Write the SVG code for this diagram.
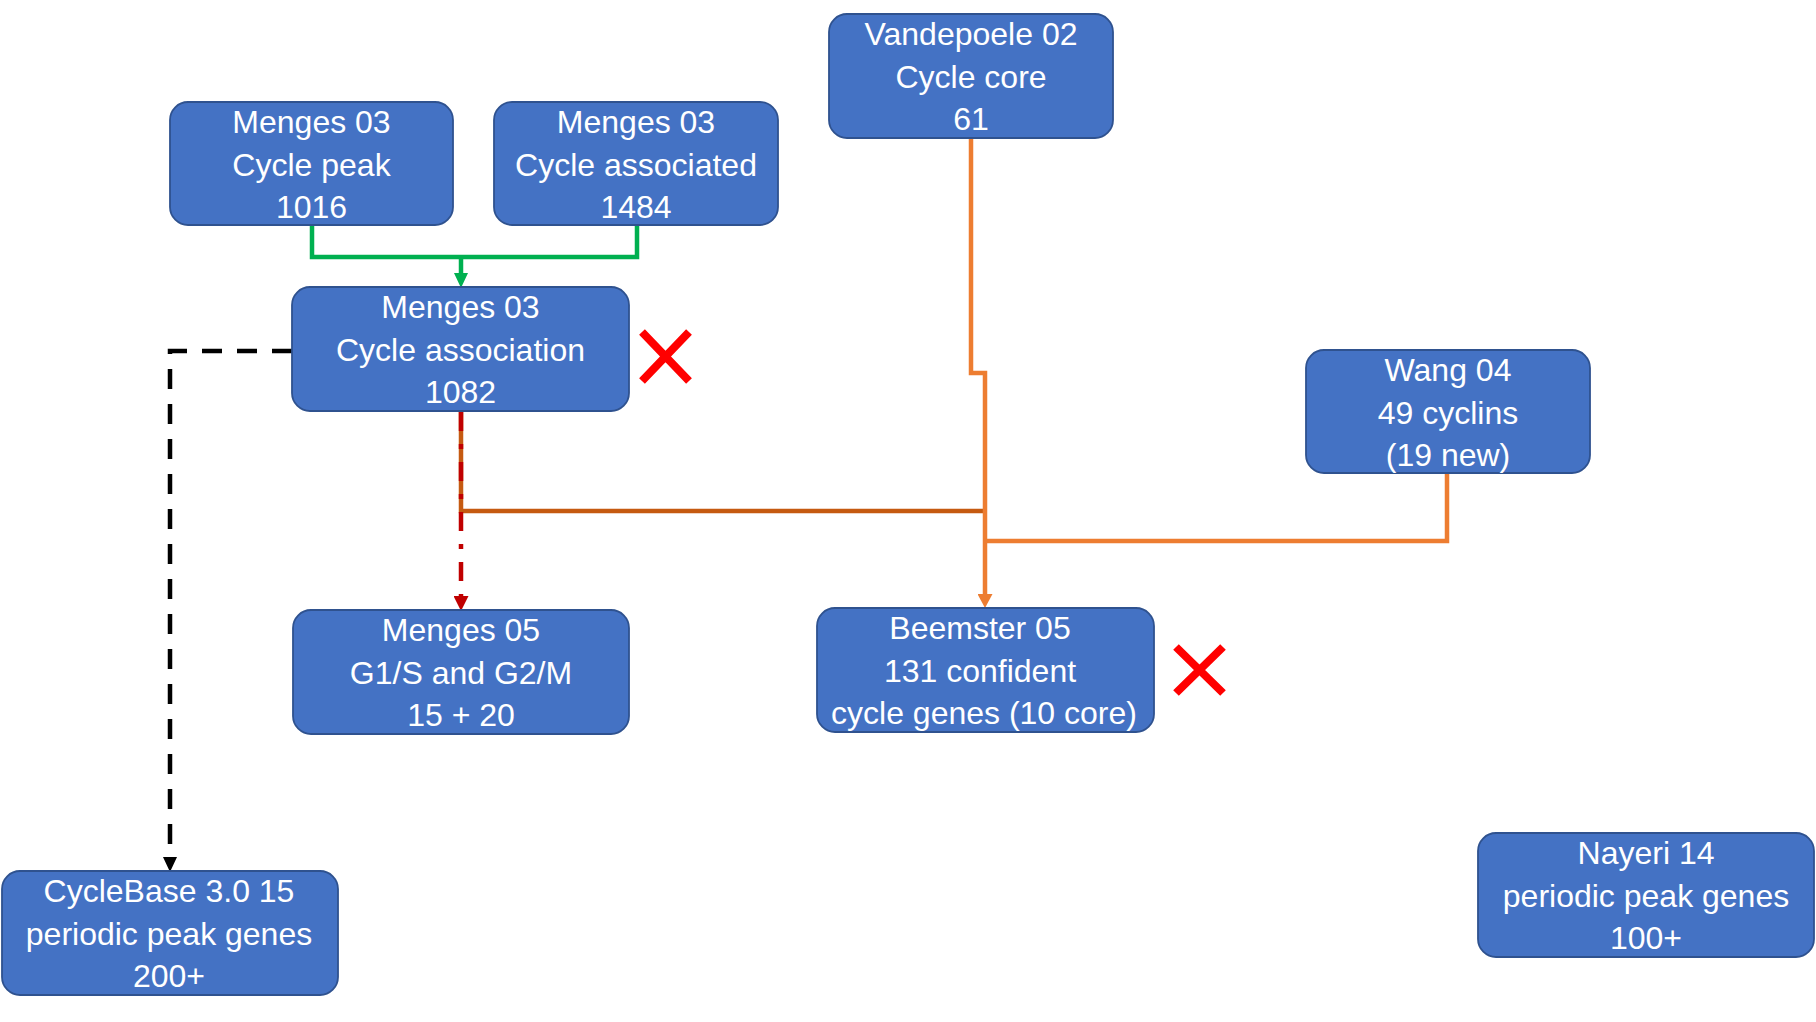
<svg xmlns="http://www.w3.org/2000/svg" width="1816" height="1022" viewBox="0 0 1816 1022">
<style>
.box{fill:#4472C4;stroke:#2F528F;stroke-width:1.8}
.t{font-family:"Liberation Sans",Arial,sans-serif;font-size:32px;fill:#FFFFFF;text-anchor:middle}
.c{fill:none;stroke-width:4.5;stroke-linejoin:miter}
.x{stroke:#FF0000;stroke-width:8;fill:none}
</style>
<defs>
<marker id="ag" markerUnits="userSpaceOnUse" markerWidth="15" markerHeight="14" refX="0" refY="7" orient="auto"><path d="M0,0 L15,7 L0,14 z" fill="#00B050"/></marker>
<marker id="ak" markerUnits="userSpaceOnUse" markerWidth="15" markerHeight="14" refX="0" refY="7" orient="auto"><path d="M0,0 L15,7 L0,14 z" fill="#000000"/></marker>
<marker id="ar" markerUnits="userSpaceOnUse" markerWidth="15" markerHeight="15" refX="0" refY="7.5" orient="auto"><path d="M0,0 L15,7.5 L0,15 z" fill="#C00000"/></marker>
<marker id="ao" markerUnits="userSpaceOnUse" markerWidth="14" markerHeight="15" refX="0" refY="7.5" orient="auto"><path d="M0,0 L14,7.5 L0,15 z" fill="#ED7D31"/></marker>
</defs>
<g id="connectors">
<path class="c" stroke="#00B050" d="M312,226 V257 H637 V226"/>
<path class="c" stroke="#00B050" d="M461,257 V273" marker-end="url(#ag)"/>
<path class="c" stroke="#000000" stroke-dasharray="20 15" d="M292,351 H170 V857" marker-end="url(#ak)"/>
<path class="c" stroke="#C55A11" d="M461,412 V511 H985"/>
<path class="c" stroke="#C00000" stroke-dasharray="19 13 5 13" d="M461,412 V596" marker-end="url(#ar)"/>
<path class="c" stroke="#ED7D31" d="M971,138 V373 H985 V594" marker-end="url(#ao)"/>
<path class="c" stroke="#ED7D31" d="M1447,474 V541 H985"/>
</g>
<g id="node-menges03-peak">
<rect class="box" x="170" y="102" width="283" height="123" rx="18"/>
<text class="t" x="311.5" y="133">Menges 03</text>
<text class="t" x="311.5" y="175.5">Cycle peak</text>
<text class="t" x="311.5" y="218">1016</text>
</g>
<g id="node-menges03-associated">
<rect class="box" x="494" y="102" width="284" height="123" rx="18"/>
<text class="t" x="636" y="133">Menges 03</text>
<text class="t" x="636" y="175.5">Cycle associated</text>
<text class="t" x="636" y="218">1484</text>
</g>
<g id="node-vandepoele02">
<rect class="box" x="829" y="14" width="284" height="124" rx="18"/>
<text class="t" x="971" y="45">Vandepoele 02</text>
<text class="t" x="971" y="87.5">Cycle core</text>
<text class="t" x="971" y="130">61</text>
</g>
<g id="node-menges03-association">
<rect class="box" x="292" y="287" width="337" height="124" rx="18"/>
<text class="t" x="460.5" y="318">Menges 03</text>
<text class="t" x="460.5" y="360.5">Cycle association</text>
<text class="t" x="460.5" y="403">1082</text>
<path class="x" d="M642,332 L689,381 M689,332 L642,381"/>
</g>
<g id="node-wang04">
<rect class="box" x="1306" y="350" width="284" height="123" rx="18"/>
<text class="t" x="1448" y="381">Wang 04</text>
<text class="t" x="1448" y="423.5">49 cyclins</text>
<text class="t" x="1448" y="466">(19 new)</text>
</g>
<g id="node-menges05">
<rect class="box" x="293" y="610" width="336" height="124" rx="18"/>
<text class="t" x="461" y="641">Menges 05</text>
<text class="t" x="461" y="683.5">G1/S and G2/M</text>
<text class="t" x="461" y="726">15 + 20</text>
</g>
<g id="node-beemster05">
<rect class="box" x="817" y="608" width="337" height="124" rx="18"/>
<text class="t" x="980" y="639">Beemster 05</text>
<text class="t" x="980" y="681.5">131 confident</text>
<text class="t" x="984" y="724">cycle genes (10 core)</text>
<path class="x" d="M1176,647 L1223,693 M1223,647 L1176,693"/>
</g>
<g id="node-cyclebase">
<rect class="box" x="2" y="871" width="336" height="124" rx="18"/>
<text class="t" x="169" y="902">CycleBase 3.0 15</text>
<text class="t" x="169" y="944.5">periodic peak genes</text>
<text class="t" x="169" y="987">200+</text>
</g>
<g id="node-nayeri14">
<rect class="box" x="1478" y="833" width="336" height="124" rx="18"/>
<text class="t" x="1646" y="864">Nayeri 14</text>
<text class="t" x="1646" y="906.5">periodic peak genes</text>
<text class="t" x="1646" y="949">100+</text>
</g>
</svg>
